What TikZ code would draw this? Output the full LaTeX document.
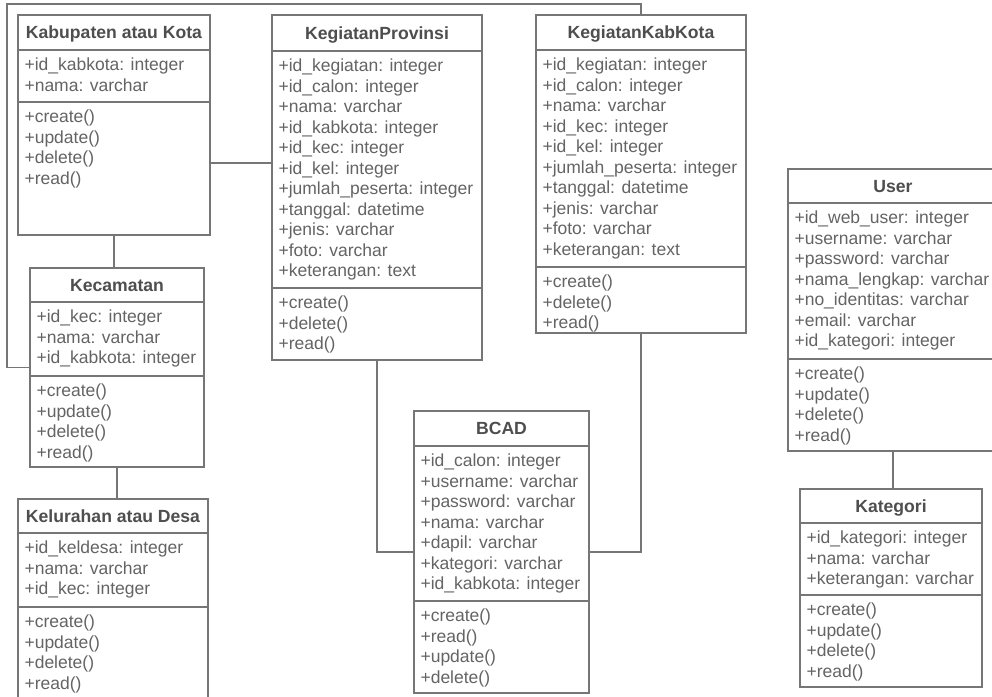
\documentclass[tikz,border=0pt]{standalone}
\usepackage{fontspec}
\setmainfont{Liberation Sans}
\usetikzlibrary{calc,fit}
\definecolor{linecol}{RGB}{118,118,118}
\definecolor{titlecol}{RGB}{78,78,78}
\definecolor{attrcol}{RGB}{100,100,100}
\tikzset{
  classbox/.style={draw=linecol, line width=1.3pt, fill=white, inner sep=0pt},
  divline/.style={draw=linecol, line width=1.3pt},
  conn/.style={draw=linecol, line width=1.3pt},
  titletext/.style={text=titlecol, font=\fontsize{17.6}{20.5}\selectfont\bfseries, inner sep=0pt},
  membertext/.style={text=attrcol, font=\fontsize{17.5}{20.5}\selectfont, inner sep=0pt},
}
% #1 name, #2 top-left, #3 bottom-right, #4 header divider y, #5 attribute divider y,
% #6 title, #7 attributes, #8 methods
\newcommand{\umlclass}[8]{%
  \node[classbox, fit={(#2) (#3)}] (#1) {};
  \draw[divline] (#1.west |- 0,#4) -- (#1.east |- 0,#4);
  \draw[divline] (#1.west |- 0,#5) -- (#1.east |- 0,#5);
  \node[titletext, anchor=base, yshift=-6.5pt] (#1-title) at ($(#1.north)!0.5!(#1.north |- 0,#4)$) {#6};
  \node[membertext, anchor=base west, xshift=7pt, yshift=-20.5pt] (#1-attrs) at (#1.west |- 0,#4) {\parbox[t]{300pt}{#7}};
  \node[membertext, anchor=base west, xshift=7pt, yshift=-20.5pt] (#1-meths) at (#1.west |- 0,#5) {\parbox[t]{300pt}{#8}};
}
\begin{document}
\begin{tikzpicture}[x=1pt,y=-1pt]
\useasboundingbox (0,0) rectangle (992,696);
\fill[white] (0,0) rectangle (992,696);

\umlclass{kab}{18,15}{210,235}{50}{102}{Kabupaten atau Kota}
  {+id\_kabkota: integer\\+nama: varchar}
  {+create()\\+update()\\+delete()\\+read()}

\umlclass{kec}{30,268}{204,467}{302}{376}{Kecamatan}
  {+id\_kec: integer\\+nama: varchar\\+id\_kabkota: integer}
  {+create()\\+update()\\+delete()\\+read()}

\umlclass{kel}{18,499}{208,700}{533}{607}{Kelurahan atau Desa}
  {+id\_keldesa: integer\\+nama: varchar\\+id\_kec: integer}
  {+create()\\+update()\\+delete()\\+read()}

\umlclass{kp}{272,15}{482,360}{51}{288}{KegiatanProvinsi}
  {+id\_kegiatan: integer\\+id\_calon: integer\\+nama: varchar\\+id\_kabkota: integer\\+id\_kec: integer\\+id\_kel: integer\\+jumlah\_peserta: integer\\+tanggal: datetime\\+jenis: varchar\\+foto: varchar\\+keterangan: text}
  {+create()\\+delete()\\+read()}

\umlclass{kk}{536,15}{746,333}{50}{267}{KegiatanKabKota}
  {+id\_kegiatan: integer\\+id\_calon: integer\\+nama: varchar\\+id\_kec: integer\\+id\_kel: integer\\+jumlah\_peserta: integer\\+tanggal: datetime\\+jenis: varchar\\+foto: varchar\\+keterangan: text}
  {+create()\\+delete()\\+read()}

\umlclass{bcad}{414,411}{589,693}{446}{601}{BCAD}
  {+id\_calon: integer\\+username: varchar\\+password: varchar\\+nama: varchar\\+dapil: varchar\\+kategori: varchar\\+id\_kabkota: integer}
  {+create()\\+read()\\+update()\\+delete()}

\umlclass{user}{788,169}{998,451}{203}{359}{User}
  {+id\_web\_user: integer\\+username: varchar\\+password: varchar\\+nama\_lengkap: varchar\\+no\_identitas: varchar\\+email: varchar\\+id\_kategori: integer}
  {+create()\\+update()\\+delete()\\+read()}

\umlclass{kat}{800,489}{982,687}{523}{595}{Kategori}
  {+id\_kategori: integer\\+nama: varchar\\+keterangan: varchar}
  {+create()\\+update()\\+delete()\\+read()}

% connectors
\coordinate (loop) at (7,4);
\draw[conn] (kab.south) -- (kab.south |- kec.north);
\draw[conn] (kec.south) -- (kec.south |- kel.north);
\draw[conn] (kec.west) -| (loop) -| (kk.north);
\draw[conn] ([yshift=-38pt]kab.east) -- ([yshift=-38pt]kab.east -| kp.west);
\draw[conn] (kp.south) |- (bcad.west);
\draw[conn] (kk.south) |- (bcad.east);
\draw[conn] (user.south) -- (user.south |- kat.north);
\end{tikzpicture}
\end{document}
